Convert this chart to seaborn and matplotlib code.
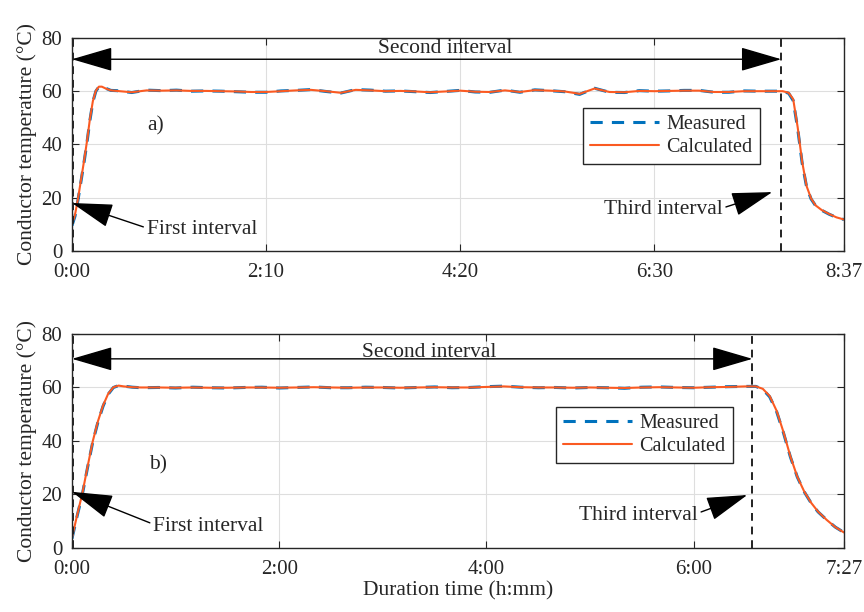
import matplotlib
matplotlib.use("Agg")
import matplotlib.pyplot as plt
import seaborn as sns

# ---- data (minutes, deg C) ----
t_a = [0, 2, 4, 6, 8, 10, 12, 14, 16, 18, 20, 23, 26,
       30, 40, 50, 60, 70, 80, 90, 100, 110, 120, 130, 140, 150, 160, 170,
       180, 190, 200, 210, 220, 230, 240, 250, 260, 270, 280, 290, 300, 310,
       320, 330, 340, 350, 360, 370, 380, 390, 400, 410, 420, 430, 440, 450,
       460, 470,
       476, 480, 483, 486, 489, 492, 495, 498, 502, 507, 512, 517]
measured_a = [9.5, 13, 19, 26, 33, 40.5, 49, 56, 60, 61.6, 61.7, 61.0, 60.3,
              60.2, 59.5, 60.4, 60.2, 60.4, 60.0, 60.1, 60.0, 59.8, 59.6, 59.6, 60.1, 60.3, 60.6, 59.9,
              59.3, 60.6, 60.4, 60.0, 60.1, 59.8, 59.5, 59.9, 60.3, 59.7, 59.6, 60.4, 59.6, 60.5,
              60.2, 59.8, 58.8, 61.1, 59.6, 59.5, 60.2, 60.0, 60.1, 60.3, 60.3, 59.6, 59.6, 60.1,
              60.0, 60.0,
              60.0, 59.2, 56.5, 46, 33, 24, 19.5, 17.0, 15.3, 13.8, 12.6, 11.8]
calculated_a = [10.0, 13.5, 19.5, 26.5, 33.5, 41, 49.5, 56.3, 60.2, 61.7, 61.7, 60.9, 60.3,
                60.1, 59.6, 60.3, 60.2, 60.3, 60.1, 60.1, 60.0, 59.9, 59.7, 59.7, 60.0, 60.3, 60.5, 60.0,
                59.4, 60.5, 60.3, 60.0, 60.1, 59.9, 59.6, 59.9, 60.2, 59.8, 59.7, 60.3, 59.7, 60.4,
                60.2, 59.9, 59.0, 61.0, 59.7, 59.6, 60.1, 60.0, 60.1, 60.2, 60.2, 59.7, 59.7, 60.0,
                60.0, 60.0,
                60.0, 59.4, 57.0, 46.5, 33.5, 24.3, 19.7, 17.1, 15.4, 13.9, 12.6, 11.8]

t_b = [0, 3, 6, 9, 12, 15, 18, 21, 24, 27, 30, 35,
       40, 50, 60, 70, 80, 90, 100, 110, 120, 130, 140, 150, 160, 170, 180,
       190, 200, 210, 220, 230, 240, 250, 260, 270, 280, 290, 300, 310, 320,
       330, 340, 350, 360, 370, 380, 390,
       396, 400, 404, 408, 412, 416, 420, 424, 428, 432, 437, 442, 447]
measured_b = [3.5, 12, 20, 30, 39.5, 47, 53, 57.5, 60, 60.7, 60.5, 60.1,
              59.9, 60.0, 59.8, 60.1, 59.9, 59.8, 60.0, 60.1, 59.8, 60.0, 60.2, 59.9, 59.9, 60.1, 60.0,
              59.8, 60.0, 60.2, 59.9, 60.0, 60.3, 60.5, 60.1, 59.9, 60.0, 59.8, 60.0, 59.9, 59.7,
              60.1, 60.2, 60.0, 59.9, 60.1, 60.3, 60.4,
              60.4, 59.3, 56.5, 51, 43, 34, 26.5, 21, 16.8, 13.5, 10.5, 7.8, 5.8]
calculated_b = [3.8, 12.3, 20.4, 30.3, 39.8, 47.3, 53.3, 57.7, 60.1, 60.7, 60.4, 60.1,
                60.0, 60.0, 59.9, 60.0, 59.9, 59.9, 60.0, 60.0, 59.9, 60.0, 60.1, 60.0, 59.9, 60.0, 60.0,
                59.9, 60.0, 60.1, 60.0, 60.0, 60.2, 60.4, 60.1, 60.0, 60.0, 59.9, 60.0, 59.9, 59.8,
                60.0, 60.1, 60.0, 59.9, 60.1, 60.2, 60.4,
                60.4, 59.5, 56.8, 51.3, 43.3, 34.2, 26.6, 21.1, 16.9, 13.6, 10.5, 7.8, 5.8]

ticks_a = [0, 130, 260, 390, 517]
ticklabels_a = ["0:00", "2:10", "4:20", "6:30", "8:37"]
ticks_b = [0, 120, 240, 360, 447]
ticklabels_b = ["0:00", "2:00", "4:00", "6:00", "7:27"]

end_a = 475   # end of second interval, minutes
end_b = 394

sns.set_style("ticks")
plt.rcParams["font.family"] = ["Liberation Serif", "DejaVu Serif"]

BLUE = "#0072BD"
ORANGE = "#FA5A22"

fig = plt.figure(figsize=(8.64, 6.12), dpi=100)
ax1 = fig.add_axes([0.0833, 0.590, 0.8935, 0.348])
ax2 = fig.add_axes([0.0833, 0.1046, 0.8935, 0.3497])

arrow = dict(arrowstyle="-|>,head_length=1.3,head_width=0.38", color="black",
             lw=1.0, mutation_scale=20, shrinkA=0, shrinkB=0)
darrow = dict(arrowstyle="<|-|>,head_length=1.3,head_width=0.38", color="black",
              lw=1.0, mutation_scale=20, shrinkA=0, shrinkB=0)


def draw(ax, t, meas, calc, ticks, labels, end, tag, tagpos, second_pos,
         first_tip, first_txt, third_tip, third_txt, legpos):
    sns.lineplot(x=t, y=meas, ax=ax, color=BLUE, lw=2.2, linestyle=(0, (4, 3)),
                 label="Measured", sort=False)
    sns.lineplot(x=t, y=calc, ax=ax, color=ORANGE, lw=1.5, label="Calculated", sort=False)
    ax.set_xlim(ticks[0], ticks[-1])
    ax.set_ylim(0, 80)
    ax.set_xticks(ticks)
    ax.set_xticklabels(labels)
    ax.set_yticks([0, 20, 40, 60, 80])
    ax.grid(True, color="#dedede", lw=0.8)
    ax.set_axisbelow(True)
    ax.tick_params(direction="in", top=True, right=True, length=5, labelsize=15,
                   colors="#262626")
    ax.tick_params(axis="x", pad=9)
    ax.tick_params(axis="y", pad=7)
    for s in ax.spines.values():
        s.set_color("#262626")
        s.set_linewidth(1.0)
    ax.set_ylabel("Conductor temperature (°C)", fontsize=15.5, color="#262626", labelpad=3)

    ax.axvline(0.8, color="#222222", ls=(0, (4, 3)), lw=1.4)
    ax.axvline(end, color="#222222", ls=(0, (4, 3)), lw=1.4)

    ax.annotate("", xy=(0, second_pos[2]), xytext=(end, second_pos[2]), arrowprops=darrow)
    ax.text(second_pos[0], second_pos[1], "Second interval", ha="center", va="center",
            fontsize=15.5)
    ax.annotate("First interval", xy=first_tip, xytext=first_txt, ha="left", va="center",
                fontsize=15.5, arrowprops=dict(arrow, relpos=(0, 0.6)))
    ax.annotate("Third interval", xy=third_tip, xytext=third_txt, ha="center", va="center",
                fontsize=15.5, arrowprops=dict(arrow, relpos=(1, 0.6)))
    ax.text(tagpos[0], tagpos[1], tag, ha="center", va="center", fontsize=15.5)

    leg = ax.legend(loc="upper left", bbox_to_anchor=legpos, fontsize=14.5, frameon=True,
                    fancybox=False, framealpha=1, edgecolor="#262626", handlelength=3.4,
                    borderpad=0.35, labelspacing=0.2, handletextpad=0.4, borderaxespad=0)
    leg.get_frame().set_linewidth(1.0)


draw(ax1, t_a, measured_a, calculated_a, ticks_a, ticklabels_a, end_a, "a)", (56, 47),
     (250, 76.0, 72), (0, 18), (50, 7.9), (469, 22.1), (396, 15.4), (0.662, 0.671))
draw(ax2, t_b, measured_b, calculated_b, ticks_b, ticklabels_b, end_b, "b)", (50, 31),
     (207, 73.0, 70.7), (0, 21), (47, 8.2), (391, 19.8), (328, 12.3), (0.627, 0.659))
ax2.set_xlabel("Duration time (h:mm)", fontsize=15.5, color="#262626", labelpad=1)

fig.savefig("out.png", dpi=100)
